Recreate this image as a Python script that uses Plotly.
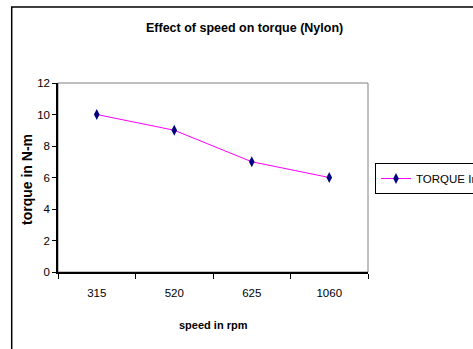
import plotly.graph_objects as go

speeds = ["315", "520", "625", "1060"]
torque = [10, 9, 7, 6]
series_name = "TORQUE In N-m"

FONT = "Liberation Sans, Arial, sans-serif"
W, H = 473, 349
L, R, T, B = 58, 105, 83, 77
pw, ph = W - L - R, H - T - B

def px_x(x):
    return (x - L) / pw

def px_y(y):
    return (H - B - y) / ph

fig = go.Figure()
fig.add_trace(go.Scatter(
    x=speeds, y=torque, mode="lines+markers", name=series_name,
    line=dict(color="#FF00FF", width=1),
    marker=dict(symbol="diamond-tall", size=8, color="#000080",
                line=dict(width=0)),
    showlegend=True,
))

fig.update_layout(
    width=W, height=H,
    margin=dict(l=L, r=R, t=T, b=B, autoexpand=False),
    paper_bgcolor="white", plot_bgcolor="white",
    font=dict(family=FONT, size=12, color="black"),
    showlegend=True,
    legend=dict(x=px_x(375), y=px_y(163), xanchor="left", yanchor="top",
                bordercolor="black", borderwidth=1, bgcolor="white",
                font=dict(size=11.5, family=FONT), itemwidth=30,
                tracegroupgap=0),
    xaxis=dict(type="category", range=[-0.5, 3.5], showgrid=False,
               showline=True, linecolor="black", linewidth=1.5,
               ticks="outside", tickson="boundaries", ticklen=5,
               tickcolor="black", ticklabelstandoff=9,
               tickfont=dict(size=11.5), zeroline=False),
    yaxis=dict(range=[0, 12], dtick=2, showgrid=False,
               showline=True, linecolor="black", linewidth=1.5,
               ticks="outside", ticklen=4, tickcolor="black",
               tickfont=dict(size=11.5), zeroline=False),
    shapes=[
        dict(type="rect", xref="paper", yref="paper", x0=0, x1=1, y0=0, y1=1,
             line=dict(color="#808080", width=1), layer="below"),
        dict(type="rect", xref="paper", yref="paper",
             x0=px_x(11.7), x1=px_x(490), y0=px_y(7), y1=px_y(370),
             line=dict(color="black", width=1.5), layer="below"),
    ],
    annotations=[
        dict(text="<b>Effect of speed on torque (Nylon)</b>", xref="paper",
             yref="paper", x=px_x(244), y=px_y(28), xanchor="center",
             yanchor="middle", showarrow=False, font=dict(size=12.5)),
        dict(text="<b>speed in rpm</b>", xref="paper", yref="paper",
             x=px_x(213), y=px_y(325), xanchor="center", yanchor="middle",
             showarrow=False, font=dict(size=11)),
        dict(text="<b>torque in N-m</b>", xref="paper", yref="paper",
             x=px_x(27), y=px_y(180), xanchor="center", yanchor="middle",
             textangle=-90, showarrow=False, font=dict(size=14)),
    ],
)

fig.write_html("out.html")
